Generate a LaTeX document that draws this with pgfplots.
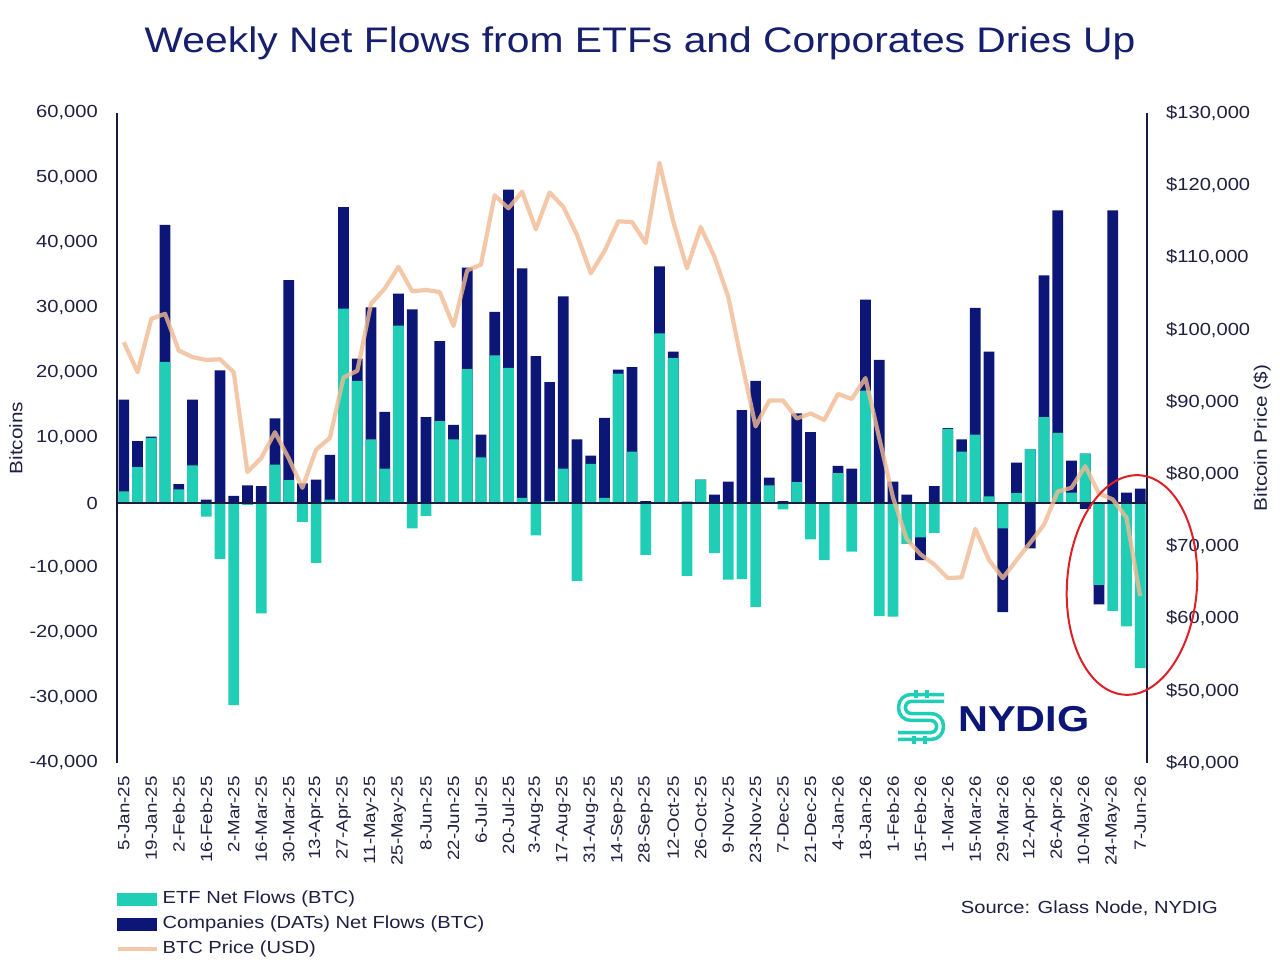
\documentclass[border=0pt]{standalone}
\usepackage{fontspec}
\setmainfont{Liberation Sans}[FakeStretch=1.15]
\usepackage{pgfplots}
\usepackage{pgfplotstable}
\pgfplotsset{compat=1.18}
\definecolor{etf}{RGB}{32,206,182}
\definecolor{dat}{RGB}{12,22,118}
\definecolor{peach}{RGB}{240,186,145}
\definecolor{titlec}{RGB}{22,30,110}
\definecolor{txt}{RGB}{30,32,66}
\definecolor{axl}{RGB}{24,28,62}
\definecolor{circ}{RGB}{222,32,38}
\newcommand\tickfont{\fontsize{17.5bp}{21bp}\selectfont}
\newcommand\xtickfont{\fontsize{16.3bp}{19bp}\selectfont}
\newcommand\labfont{\fontsize{18bp}{21bp}\selectfont}

\pgfplotstableread{
i etf top bot price
0 1800 15900 0 98250
1 5500 9500 0 94100
2 10000 10200 0 101500
3 21700 42800 0 102200
4 2100 2900 0 97100
5 5800 15900 0 96200
6 -2100 500 0 95800
7 -8600 20400 0 95900
8 -31100 1100 0 94100
9 -300 2700 0 80300
10 -17000 2600 0 82200
11 5900 13000 0 85800
12 3500 34300 0 82200
13 -2900 3000 0 78100
14 -9200 3600 0 83400
15 500 7400 0 85000
16 29900 45500 0 93400
17 18800 22200 0 94300
18 9800 30100 0 103600
19 5300 14000 0 105700
20 27300 32200 0 108700
21 -3900 29800 0 105300
22 -2000 13200 0 105500
23 12600 24900 0 105200
24 9800 12000 0 100500
25 20600 36200 0 108200
26 7000 10500 0 109000
27 22700 29400 0 118600
28 20800 48200 0 116800
29 800 36100 0 119100
30 -5000 22600 0 113900
31 300 18600 0 119000
32 5300 31800 0 117000
33 -12000 9800 0 113100
34 6000 7300 0 107800
35 800 13100 0 110900
36 19900 20500 0 115000
37 7900 20900 0 114900
38 -8000 300 0 112000
39 26100 36400 0 123100
40 22300 23300 0 115000
41 -11200 200 0 108500
42 3600 3600 0 114200
43 -7700 1300 0 110100
44 -11800 3300 0 104600
45 -11700 14300 0 95400
46 -16000 18800 0 86600
47 2700 3900 0 90200
48 -1000 300 0 90200
49 3200 13800 0 87700
50 -5600 10900 0 88400
51 -8800 0 0 87500
52 4600 5700 0 91100
53 -7500 5300 0 90400
54 17300 31300 0 93300
55 -17400 22000 0 85000
56 -17500 3300 0 76800
57 -6300 1300 0 71000
58 -5300 0 -8800 68900
59 -4600 2600 0 67500
60 11400 11500 0 65600
61 7900 9800 0 65700
62 10500 30000 0 72400
63 1000 23300 0 68100
64 -3900 0 -16800 65600
65 1500 6200 0 68100
66 8300 8300 -7000 70500
67 13200 35000 0 73000
68 10800 45000 0 77600
69 1600 6500 0 78100
70 7600 7600 -900 81100
71 -12600 0 -15600 77300
72 -16600 45000 0 76500
73 -19000 1600 0 74000
74 -25400 2200 0 63100
}\data

\begin{document}
\begin{tikzpicture}[x=1bp,y=1bp]
\useasboundingbox[fill=white] (0,0) rectangle (1280,963);

\begin{axis}[
  at={(117bp,200bp)}, anchor=south west,
  scale only axis, width=1030bp, height=650bp,
  xmin=-0.5, xmax=74.5, ymin=-40000, ymax=60000,
  axis x line*=bottom, axis y line*=left,
  x axis line style={draw=none},
  y axis line style={-, draw=axl, line width=1.6bp},
  major tick length=0pt,
  ytick={-40000,-30000,...,60000},
  scaled y ticks=false,
  /pgf/number format/.cd, fixed, precision=0, 1000 sep={,}, assume math mode=true,
  /pgfplots/.cd,
  yticklabel style={font=\tickfont, text=txt, inner sep=0pt, anchor=east},
  yticklabel shift=19bp,
  xtick={0,2,...,74},
  xticklabels={5-Jan-25,19-Jan-25,2-Feb-25,16-Feb-25,2-Mar-25,16-Mar-25,30-Mar-25,13-Apr-25,27-Apr-25,11-May-25,25-May-25,8-Jun-25,22-Jun-25,6-Jul-25,20-Jul-25,3-Aug-25,17-Aug-25,31-Aug-25,14-Sep-25,28-Sep-25,12-Oct-25,26-Oct-25,9-Nov-25,23-Nov-25,7-Dec-25,21-Dec-25,4-Jan-26,18-Jan-26,1-Feb-26,15-Feb-26,1-Mar-26,15-Mar-26,29-Mar-26,12-Apr-26,26-Apr-26,10-May-26,24-May-26,7-Jun-26},
  xticklabel style={font=\xtickfont, text=txt, rotate=90, anchor=east, inner sep=0pt},
  xticklabel shift=13bp,
  ylabel={Bitcoins},
  every axis y label/.style={at={(axis description cs:-0.0981,0.5)}, rotate=90, anchor=center, font=\labfont, text=txt},
  clip=false,
]
\addplot[ybar, bar shift=0pt, bar width=0.78, fill=dat, draw=none] table[x=i,y=top]{\data};
\addplot[ybar, bar shift=0pt, bar width=0.78, fill=dat, draw=none] table[x=i,y=bot]{\data};
\addplot[ybar, bar shift=0pt, bar width=0.78, fill=etf, draw=none] table[x=i,y=etf]{\data};
\draw[axl, line width=1.6bp] (axis cs:-0.5,0) -- (axis cs:74.5,0);
\end{axis}

\begin{axis}[
  at={(117bp,200bp)}, anchor=south west,
  scale only axis, width=1030bp, height=650bp,
  xmin=-0.5, xmax=74.5, ymin=40000, ymax=130000,
  axis x line=none, axis y line*=right,
  y axis line style={-, draw=axl, line width=1.6bp},
  major tick length=0pt,
  ytick={40000,50000,...,130000},
  scaled y ticks=false,
  /pgf/number format/.cd, fixed, precision=0, 1000 sep={,}, assume math mode=true,
  /pgfplots/.cd,
  yticklabel={\$\pgfmathprintnumber{\tick}},
  yticklabel style={font=\tickfont, text=txt, inner sep=0pt, anchor=west},
  yticklabel shift=19bp,
  ylabel={Bitcoin Price (\$)},
  every axis y label/.style={at={(axis description cs:1.1117,0.5)}, rotate=90, anchor=center, font=\labfont, text=txt},
  legend style={at={(axis description cs:-0.0015,-0.1954)}, anchor=north west, draw=none, fill=none,
    inner sep=0pt, font=\tickfont, text=txt, row sep=8bp,
    nodes={inner sep=0pt, text height=13bp, text depth=4bp},
    /tikz/every odd column/.append style={column sep=4bp}},
  legend cell align=left,
  clip=false,
]
\addlegendimage{legend image code/.code={\fill[etf] (0bp,-6bp) rectangle (39bp,6bp);}}
\addlegendentry{ETF Net Flows (BTC)}
\addlegendimage{legend image code/.code={\fill[dat] (0bp,-6bp) rectangle (39bp,6bp);}}
\addlegendentry{Companies (DATs) Net Flows (BTC)}
\addplot[peach, opacity=0.8, line width=4.2bp, line join=round, no marks,
  legend image code/.code={\draw[peach, opacity=0.8, line width=4bp] (0bp,0bp) -- (39bp,0bp);}]
  table[x=i,y=price]{\data};
\addlegendentry{BTC Price (USD)}
\end{axis}

% title
\node[anchor=base, text=titlec, font=\fontsize{35.5bp}{40bp}\selectfont] at (640,910) {Weekly Net Flows from ETFs and Corporates Dries Up};
% source
\node[anchor=base east, text=txt, font=\tickfont, inner sep=0pt] at (1218,49) {Source: Glass Node, NYDIG};
% logo
\draw[etf, line width=3.6bp, double=white, double distance=3.2bp, rounded corners=9bp]
  (944,265) -- (902,265) -- (902,246) -- (940,246) -- (940,227) -- (898,227);
\draw[etf, line width=3.6bp] (916,265) -- (916,273) (927,265) -- (927,273)
  (914,227) -- (914,219) (925,227) -- (925,219);
\node[anchor=base west, text=dat, inner sep=0pt, font=\fontsize{36bp}{40bp}\selectfont\bfseries] at (958,231) {NYDIG};
% annotation circle
\draw[circ, line width=2bp, rotate around={-4:(1132,378)}] (1132,378) ellipse [x radius=65, y radius=110];
\end{tikzpicture}
\end{document}
